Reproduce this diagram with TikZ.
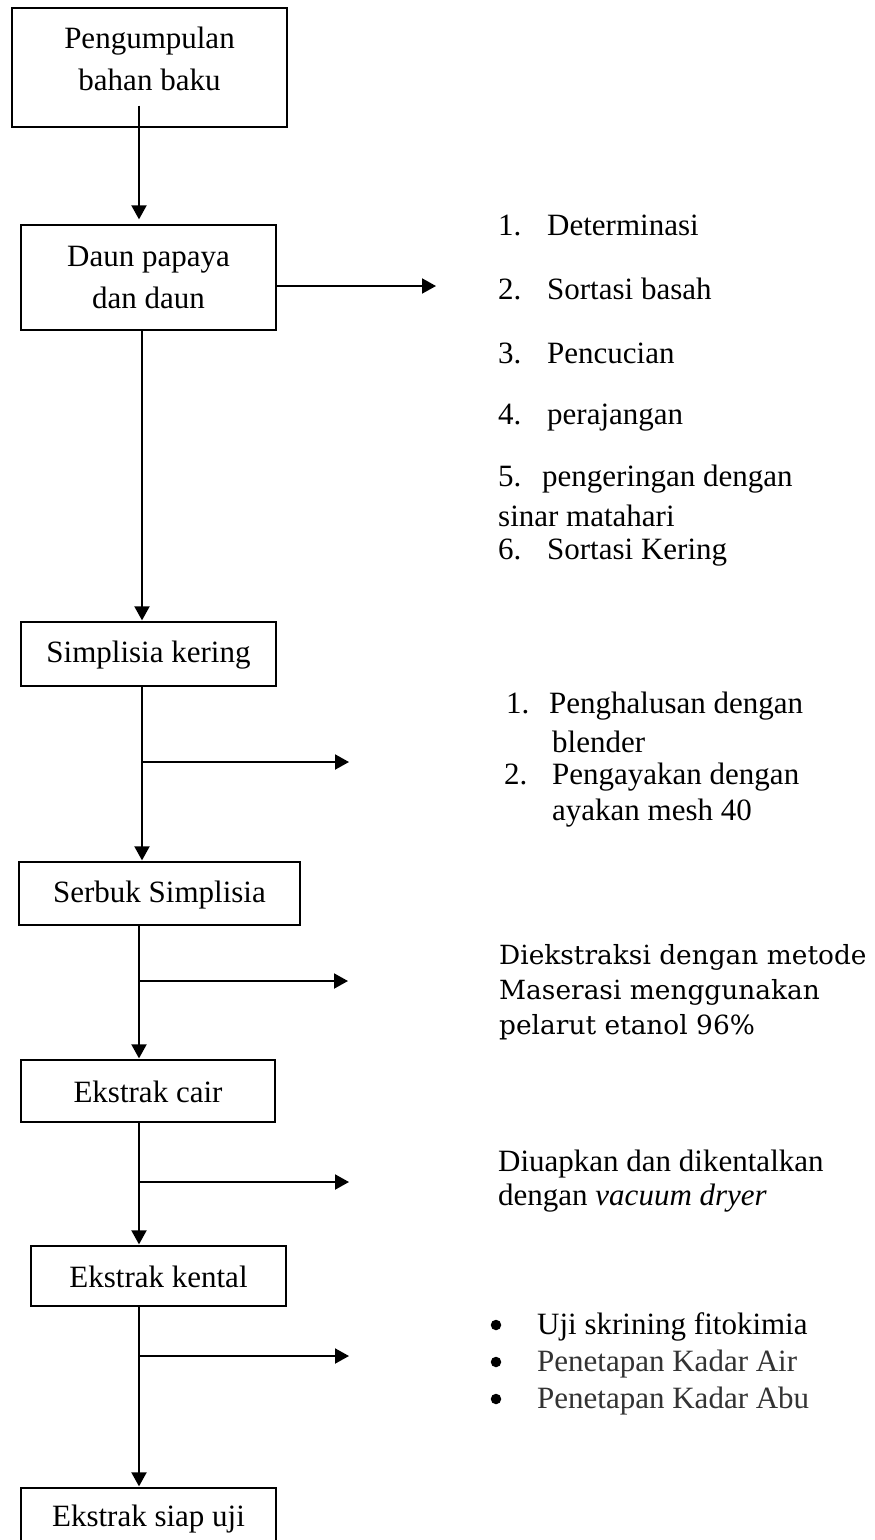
\documentclass[tikz,border=0pt]{standalone}
\usepackage{fontspec}
\setmainfont{Liberation Serif}
\newfontfamily\altserif{DejaVu Serif}
\usetikzlibrary{arrows.meta,calc}
\begin{document}
\begin{tikzpicture}[x=1pt,y=-1pt,
  every node/.style={font=\fontsize{31}{42}\selectfont, inner sep=0pt},
  box/.style={draw, line width=1.3pt},
  lbl/.style={align=center},
  item/.style={anchor=west},
  bul/.style={circle, fill=black, minimum size=10.5pt},
  conn/.style={line width=2pt, -{Triangle[length=14pt,width=15pt]}},
]
\useasboundingbox (0,0) rectangle (875,1540);
\clip (0,0) rectangle (875,1540);
\fill[white] (0,0) rectangle (875,1540);

% boxes
\node[box, minimum width=275pt, minimum height=119pt] (b1) at (149.5,67.5) {};
\node[lbl] (t1) at (149.5,59) {Pengumpulan\\bahan baku};
\node[box, minimum width=255pt, minimum height=105pt] (b2) at (148.5,277.5) {};
\node[lbl] (t2) at (148.5,277.5) {Daun papaya\\dan daun};
\node[box, minimum width=255pt, minimum height=64pt] (b3) at (148.5,654) {};
\node (t3) at (148.5,655) {Simplisia kering};
\node[box, minimum width=281pt, minimum height=63pt] (b4) at (159.5,893.5) {};
\node (t4) at (159.5,895) {Serbuk Simplisia};
\node[box, minimum width=254pt, minimum height=62pt] (b5) at (148,1091) {};
\node (t5) at (148,1092) {Ekstrak cair};
\node[box, minimum width=255pt, minimum height=60pt] (b6) at (158.5,1276) {};
\node (t6) at (158.5,1277) {Ekstrak kental};
\node[box, minimum width=255pt, minimum height=90pt] (b7) at (148.5,1533) {};
\node (t7) at (148.5,1519) {Ekstrak siap uji};

% spine coordinates
\coordinate (s1) at (139,0);
\coordinate (s2) at (142,0);
\coordinate (s3) at (142,0);
\coordinate (s4) at (139,0);
\coordinate (s5) at (139,0);
\coordinate (s6) at (139,0);

% branch ends
\coordinate (h1) at (436,286);
\coordinate (r1) at (349,762);
\coordinate (r2) at (348,981);
\coordinate (r3) at (349,1182);
\coordinate (r4) at (349,1356);

% connectors
\draw[conn] ($(b1.south -| s1)+(0,-22)$) -- ($(b2.north -| s1)+(0,-5)$);
\draw[conn] (b2.east |- h1) -- (h1);
\draw[conn] (b2.south -| s2) -- ($(b3.north -| s2)+(0,-1)$);
\draw[conn] (b3.south -| s3) -- ($(b4.north -| s3)+(0,-1)$);
\draw[conn] (s3 |- r1) -- (r1);
\draw[conn] (b4.south -| s4) -- ($(b5.north -| s4)+(0,-1)$);
\draw[conn] (s4 |- r2) -- (r2);
\draw[conn] (b5.south -| s5) -- ($(b6.north -| s5)+(0,-1)$);
\draw[conn] (s5 |- r3) -- (r3);
\draw[conn] (b6.south -| s6) -- ($(b7.north -| s6)+(0,-1)$);
\draw[conn] (s6 |- r4) -- (r4);

% list 1
\node[item] (a1) at (498,225) {\makebox[49pt][l]{1.}Determinasi};
\node[item] (a2) at (498,289) {\makebox[49pt][l]{2.}Sortasi basah};
\node[item] (a3) at (498,353) {\makebox[49pt][l]{3.}Pencucian};
\node[item] (a4) at (498,418) {\makebox[49pt][l]{4.}perajangan};
\node[item] (a5) at (498,479) {\makebox[44pt][l]{5.}pengeringan dengan};
\node[item] (a6) at (498,516) {sinar matahari};
\node[item] (a7) at (498,553) {\makebox[49pt][l]{6.}Sortasi Kering};

% list 2
\node[item] (c1) at (506,706) {\makebox[43pt][l]{1.}Penghalusan dengan};
\node[item] (c2) at (552,742) {blender};
\node[item] (c3) at (504,777) {\makebox[48pt][l]{2.}Pengayakan dengan};
\node[item] (c4) at (552,813) {ayakan mesh 40};

% extraction text
\node[item, align=left, font=\altserif\fontsize{26.4}{35}\selectfont] (d1) at (499,992)
  {Diekstraksi dengan metode\\Maserasi menggunakan\\pelarut etanol 96\%};

% evaporation text
\node[item, align=left, font=\fontsize{31}{34}\selectfont] (e1) at (498,1181)
  {Diuapkan dan dikentalkan\\dengan \textit{vacuum dryer}};

% bullets
\node[bul] (p1) at (496,1325) {};
\node[bul] (p2) at (496,1362) {};
\node[bul] (p3) at (496,1399) {};
\node[item] (u1) at (537,1327) {Uji skrining fitokimia};
\node[item, text=black!80] (u2) at (537,1364) {Penetapan Kadar Air};
\node[item, text=black!80] (u3) at (537,1401) {Penetapan Kadar Abu};
\end{tikzpicture}
\end{document}
